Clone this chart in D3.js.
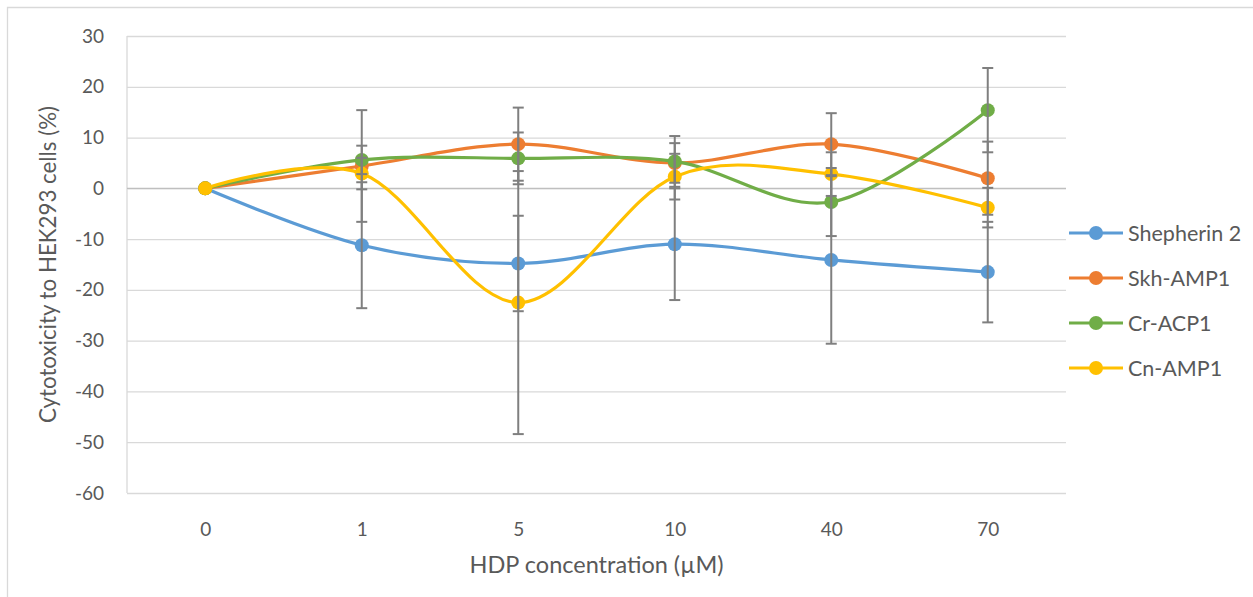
<!DOCTYPE html>
<html>
<head>
<meta charset="utf-8">
<script src="https://cdn.jsdelivr.net/npm/d3@7"></script>
<style>
  html, body { margin: 0; padding: 0; background: #fff; }
  svg { display: block; }
  text { font-family: Lato, "Open Sans", sans-serif; fill: #595959; }
</style>
</head>
<body>
<svg id="chart" width="1253" height="597"></svg>
<script>
const categories = ["0", "1", "5", "10", "40", "70"];
const seriesNames = ["Shepherin 2", "Skh-AMP1", "Cr-ACP1", "Cn-AMP1"];
const shepherin2 = [0, -11.2, -14.8, -11.0, -14.1, -16.5];
const shepherin2Err = [0, 12.4, 9.4, 11.0, 16.5, 9.9];
const skhAMP1 = [0, 4.4, 8.7, 5.0, 8.7, 2.0];
const skhAMP1Err = [0, 11.0, 7.2, 3.9, 6.1, 7.2];
const crACP1 = [0, 5.6, 5.9, 5.3, -2.7, 15.4];
const crACP1Err = [0, 2.8, 5.1, 5.0, 6.7, 8.3];
const cnAMP1 = [0, 2.9, -22.5, 2.3, 2.8, -3.8];
const cnAMP1Err = [0, 3.1, 25.9, 4.5, 4.3, 3.9];
const yTicks = [30, 20, 10, 0, -10, -20, -30, -40, -50, -60];
const yTickLabels = ["30", "20", "10", "0", "-10", "-20", "-30", "-40", "-50", "-60"];
const xTitle = "HDP concentration (µM)";
const yTitle = "Cytotoxicity to HEK293 cells (%)";

const colors = ["#5B9BD5", "#ED7D31", "#70AD47", "#FFC000"];
const series = [
  { name: seriesNames[0], values: shepherin2, err: shepherin2Err, color: colors[0] },
  { name: seriesNames[1], values: skhAMP1, err: skhAMP1Err, color: colors[1] },
  { name: seriesNames[2], values: crACP1, err: crACP1Err, color: colors[2] },
  { name: seriesNames[3], values: cnAMP1, err: cnAMP1Err, color: colors[3] }
];

const svg = d3.select("#chart");
const plot = { left: 127, right: 1066, top: 36, bottom: 493 };

// chart outer border (left and top visible)
svg.append("path")
  .attr("d", "M7.5,597 L7.5,7.5 L1253,7.5")
  .attr("fill", "none").attr("stroke", "#d9d9d9").attr("stroke-width", 1.3);

const x = d3.scalePoint().domain(categories).range([plot.left, plot.right]).padding(0.5);
const y = d3.scaleLinear().domain([-60, 30]).range([plot.bottom, plot.top]);

// gridlines
const grid = svg.append("g").attr("transform", `translate(${plot.left},0)`)
  .call(d3.axisLeft(y).tickValues(yTicks).tickSize(-(plot.right - plot.left)).tickFormat(""));
grid.select(".domain").remove();
grid.selectAll(".tick line").attr("stroke", "#d9d9d9").attr("stroke-width", 1.3);

// left axis line
svg.append("line")
  .attr("x1", plot.left).attr("x2", plot.left)
  .attr("y1", y(30)).attr("y2", y(-60))
  .attr("stroke", "#d9d9d9").attr("stroke-width", 1.3);
// zero axis line
svg.append("line")
  .attr("x1", plot.left).attr("x2", plot.right)
  .attr("y1", y(0)).attr("y2", y(0))
  .attr("stroke", "#bfbfbf").attr("stroke-width", 1.3);

// y tick labels
const yAxis = svg.append("g").attr("transform", `translate(104,0)`)
  .call(d3.axisLeft(y).tickValues(yTicks).tickSize(0).tickPadding(0)
    .tickFormat((d, i) => yTickLabels[i]));
yAxis.select(".domain").remove();
yAxis.selectAll("text").attr("font-size", 19).attr("fill", "#595959")
  .style("font-family", "Lato, 'Open Sans', sans-serif");

// x tick labels
const xAxis = svg.append("g").attr("transform", `translate(0,522)`)
  .call(d3.axisBottom(x).tickSize(0).tickPadding(0));
xAxis.select(".domain").remove();
xAxis.selectAll("text").attr("font-size", 19).attr("fill", "#595959")
  .style("font-family", "Lato, 'Open Sans', sans-serif");

// axis titles
svg.append("text")
  .attr("x", (plot.left + plot.right) / 2).attr("y", 573)
  .attr("text-anchor", "middle").attr("font-size", 23.5)
  .text(xTitle);
svg.append("text")
  .attr("transform", `translate(56,${(plot.top + plot.bottom) / 2}) rotate(-90)`)
  .attr("text-anchor", "middle").attr("font-size", 22.3)
  .text(yTitle);

// lines
const line = d3.line()
  .x((d, i) => x(categories[i]))
  .y(d => y(d))
  .curve(d3.curveCatmullRom.alpha(0));

series.forEach(s => {
  const g = svg.append("g");
  g.append("path")
    .attr("d", line(s.values))
    .attr("fill", "none").attr("stroke", s.color)
    .attr("stroke-width", 3.2).attr("stroke-linecap", "round");
  g.selectAll("circle").data(s.values).join("circle")
    .attr("cx", (d, i) => x(categories[i]))
    .attr("cy", d => y(d))
    .attr("r", 7)
    .attr("fill", s.color);
});

// error bars (on top)
series.forEach(s => {
  const g = svg.append("g");
  s.values.forEach((v, i) => {
    const e = s.err[i];
    if (!e) return;
    const cx = x(categories[i]);
    g.append("line")
      .attr("x1", cx).attr("x2", cx)
      .attr("y1", y(v + e)).attr("y2", y(v - e))
      .attr("stroke", "#7f7f7f").attr("stroke-width", 2);
    [v + e, v - e].forEach(c => {
      g.append("line")
        .attr("x1", cx - 5.5).attr("x2", cx + 5.5)
        .attr("y1", y(c)).attr("y2", y(c))
        .attr("stroke", "#7f7f7f").attr("stroke-width", 2);
    });
  });
});

// legend
const legendRows = [233, 278, 323, 368];
series.forEach((s, i) => {
  const g = svg.append("g").attr("transform", `translate(0,${legendRows[i]})`);
  g.append("line").attr("x1", 1069).attr("x2", 1123).attr("y1", 0).attr("y2", 0)
    .attr("stroke", s.color).attr("stroke-width", 3.2);
  g.append("circle").attr("cx", 1096).attr("cy", 0).attr("r", 7).attr("fill", s.color);
  g.append("text").attr("x", 1128).attr("y", 0).attr("dy", "0.35em")
    .attr("font-size", 21.5).text(s.name);
});
</script>
</body>
</html>
